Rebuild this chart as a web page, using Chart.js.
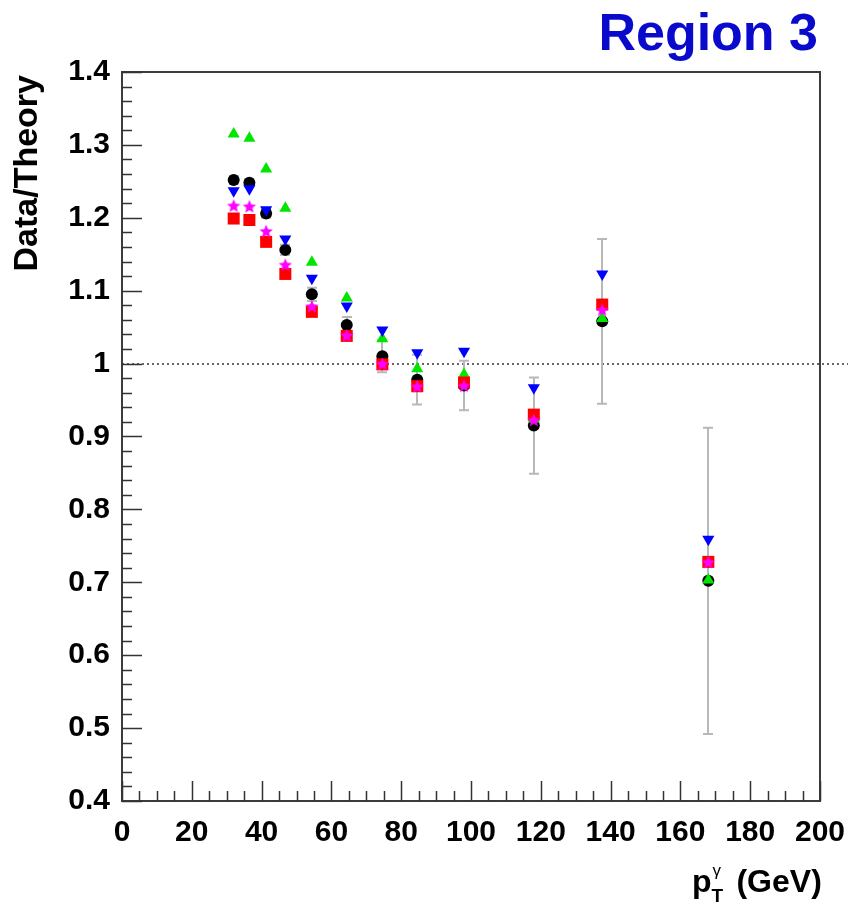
<!DOCTYPE html>
<html><head><meta charset="utf-8">
<script src="https://cdn.jsdelivr.net/npm/chart.js@4/dist/chart.umd.min.js"></script>
<style>html,body{margin:0;padding:0;background:#fff;}#wrap{width:848px;height:907px;}</style>
</head><body><div id="wrap"><canvas id="c" width="848" height="907"></canvas></div>
<script>
// ---- data ----
const ptBins            = [32, 36.5, 41.3, 46.8, 54.4, 64.4, 74.6, 84.6, 98, 118, 137.6, 168];
const ratioCircle       = [1.252, 1.248, 1.206, 1.156, 1.095, 1.053, 1.010, 0.978, 0.970, 0.915, 1.058, 0.702];
const ratioCircleErr    = [0.005, 0.005, 0.006, 0.007, 0.009, 0.011, 0.022, 0.034, 0.034, 0.066, 0.113, 0.210];
const ratioUpTriangle   = [1.315, 1.309, 1.267, 1.213, 1.139, 1.090, 1.034, 0.993, 0.985, 0.924, 1.062, 0.703];
const ratioDownTriangle = [1.237, 1.240, 1.211, 1.171, 1.117, 1.079, 1.046, 1.015, 1.017, 0.967, 1.123, 0.759];
const ratioSquare       = [1.199, 1.197, 1.167, 1.123, 1.071, 1.038, 0.999, 0.969, 0.974, 0.930, 1.081, 0.728];
const ratioStar         = [1.217, 1.216, 1.182, 1.136, 1.079, 1.039, 1.000, 0.969, 0.970, 0.923, 1.074, 0.728];
const xTickValues = [0, 20, 40, 60, 80, 100, 120, 140, 160, 180, 200];
const xTickLabels = ['0','20','40','60','80','100','120','140','160','180','200'];
const yTickValues = [0.4, 0.5, 0.6, 0.7, 0.8, 0.9, 1.0, 1.1, 1.2, 1.3, 1.4];
const yTickLabels = ['0.4','0.5','0.6','0.7','0.8','0.9','1','1.1','1.2','1.3','1.4'];
const titleText = 'Region 3';
const yTitleText = 'Data/Theory';
const referenceLine = 1.0;

const FONT = '"Liberation Sans", Arial, Helvetica, sans-serif';

function makeStar(size, color) {
  const c = document.createElement('canvas');
  c.width = size; c.height = size;
  const g = c.getContext('2d');
  g.fillStyle = color;
  g.beginPath();
  const cx = size / 2, cy = size / 2 + 0.8, R = size / 2, r = R * 0.45;
  for (let i = 0; i < 10; i++) {
    const a = -Math.PI / 2 + i * Math.PI / 5;
    const rr = (i % 2) ? r : R;
    g.lineTo(cx + rr * Math.cos(a), cy + rr * Math.sin(a));
  }
  g.closePath(); g.fill();
  return c;
}
const starImg = makeStar(14, '#ff00ff');

function pts(arr) { return ptBins.map((x, i) => ({x: x, y: arr[i]})); }

const decor = {
  id: 'decor',
  beforeDatasetsDraw(chart) {
    const {ctx, chartArea: a, scales: {x, y}} = chart;
    // dotted reference line
    ctx.save();
    ctx.strokeStyle = '#666';
    ctx.lineWidth = 2;
    ctx.setLineDash([2, 3]);
    const yr = Math.round(y.getPixelForValue(referenceLine));
    ctx.beginPath(); ctx.moveTo(a.left, yr); ctx.lineTo(chart.width, yr); ctx.stroke();
    ctx.restore();
    // error bars
    ctx.save();
    ctx.strokeStyle = '#b8b8b8';
    ctx.lineWidth = 2;
    ptBins.forEach((xv, i) => {
      const px = Math.round(x.getPixelForValue(xv));
      const lo = y.getPixelForValue(ratioCircle[i] - ratioCircleErr[i]);
      const hi = y.getPixelForValue(ratioCircle[i] + ratioCircleErr[i]);
      ctx.beginPath();
      ctx.moveTo(px, lo); ctx.lineTo(px, hi);
      ctx.moveTo(px - 5, lo); ctx.lineTo(px + 5, lo);
      ctx.moveTo(px - 5, hi); ctx.lineTo(px + 5, hi);
      ctx.stroke();
    });
    ctx.restore();
  },
  afterDraw(chart) {
    const {ctx, chartArea: a, scales: {x, y}} = chart;
    ctx.save();
    // frame
    ctx.strokeStyle = '#3c3c3c';
    ctx.lineWidth = 2;
    ctx.strokeRect(a.left, a.top, a.right - a.left, a.bottom - a.top);
    // ticks (inside)
    ctx.lineWidth = 1.5;
    ctx.strokeStyle = '#333';
    ctx.beginPath();
    for (let v = 0; v <= 200.001; v += 5) {
      const px = Math.round(x.getPixelForValue(v)) + 0.5;
      const len = (Math.round(v) % 20 === 0) ? 20 : 10;
      ctx.moveTo(px, a.bottom); ctx.lineTo(px, a.bottom - len);
    }
    for (let k = 0; k <= 50; k++) {
      const v = 0.4 + k * 0.02;
      const py = Math.round(y.getPixelForValue(v)) + 0.5;
      const len = (k % 5 === 0) ? 20 : 10;
      ctx.moveTo(a.left, py); ctx.lineTo(a.left + len, py);
    }
    ctx.stroke();
    // title
    ctx.fillStyle = '#0a0acd';
    ctx.font = 'bold 52px ' + FONT;
    ctx.textAlign = 'right';
    ctx.textBaseline = 'alphabetic';
    ctx.fillText(titleText, 818, 50);
    // y title
    ctx.fillStyle = '#000';
    ctx.save();
    ctx.translate(37, 75);
    ctx.rotate(-Math.PI / 2);
    ctx.font = 'bold 34px ' + FONT;
    ctx.textAlign = 'right';
    ctx.fillText(yTitleText, 0, 0);
    ctx.restore();
    // x title: p_T^gamma (GeV)
    ctx.textAlign = 'left';
    const base = 892;
    let cx = 692;
    ctx.font = 'bold 32px ' + FONT;
    ctx.fillText('p', cx, base);
    cx += ctx.measureText('p').width;
    ctx.font = 'bold 19px ' + FONT;
    ctx.fillText('T', cx, base + 10);
    ctx.font = '17px ' + FONT;
    ctx.fillText('γ', cx + 1, base - 16);
    cx += 16;
    ctx.font = 'bold 32px ' + FONT;
    ctx.fillText(' (GeV)', cx, base);
    ctx.restore();
  }
};

new Chart(document.getElementById('c'), {
  type: 'scatter',
  data: {
    datasets: [
      {label: 'circle', data: pts(ratioCircle), pointStyle: 'circle', pointRadius: 6,
       pointBackgroundColor: '#000', pointBorderColor: '#000', pointBorderWidth: 0, order: 5},
      {label: 'up triangle', data: pts(ratioUpTriangle), pointStyle: 'triangle', pointRadius: 7,
       pointBackgroundColor: '#00e600', pointBorderColor: '#00e600', pointBorderWidth: 0, order: 4},
      {label: 'down triangle', data: pts(ratioDownTriangle), pointStyle: 'triangle', pointRotation: 180, pointRadius: 7,
       pointBackgroundColor: '#0000ff', pointBorderColor: '#0000ff', pointBorderWidth: 0, order: 3},
      {label: 'square', data: pts(ratioSquare), pointStyle: 'rect', pointRadius: 8.5,
       pointBackgroundColor: '#ff0000', pointBorderColor: '#ff0000', pointBorderWidth: 0, order: 2},
      {label: 'star', data: pts(ratioStar), pointStyle: starImg, pointRadius: 7,
       pointBackgroundColor: '#ff00ff', pointBorderColor: '#ff00ff', pointBorderWidth: 0, order: 1}
    ]
  },
  options: {
    responsive: false,
    animation: false,
    events: [],
    layout: {padding: {top: 72, right: 28, left: 0, bottom: 0}},
    plugins: {legend: {display: false}, tooltip: {enabled: false}, title: {display: false}},
    scales: {
      x: {
        type: 'linear', min: 0, max: 200,
        grid: {display: false, drawTicks: false},
        border: {display: false},
        afterBuildTicks: s => { s.ticks = xTickValues.map(v => ({value: v})); },
        afterFit: s => { s.height = 106; s.paddingLeft = 0; s.paddingRight = 0; },
        ticks: {color: '#000', padding: 14, maxRotation: 0, autoSkip: false,
                font: {family: FONT, size: 30, weight: 'bold'},
                callback: (v, i) => xTickLabels[i]}
      },
      y: {
        type: 'linear', min: 0.4, max: 1.4,
        grid: {display: false, drawTicks: false},
        border: {display: false},
        afterBuildTicks: s => { s.ticks = yTickValues.map(v => ({value: v})); },
        afterFit: s => { s.width = 122; s.paddingTop = 0; s.paddingBottom = 0; },
        ticks: {color: '#000', padding: 12, autoSkip: false,
                font: {family: FONT, size: 30, weight: 'bold'},
                callback: (v, i) => yTickLabels[i]}
      }
    }
  },
  plugins: [decor]
});
</script></body></html>
